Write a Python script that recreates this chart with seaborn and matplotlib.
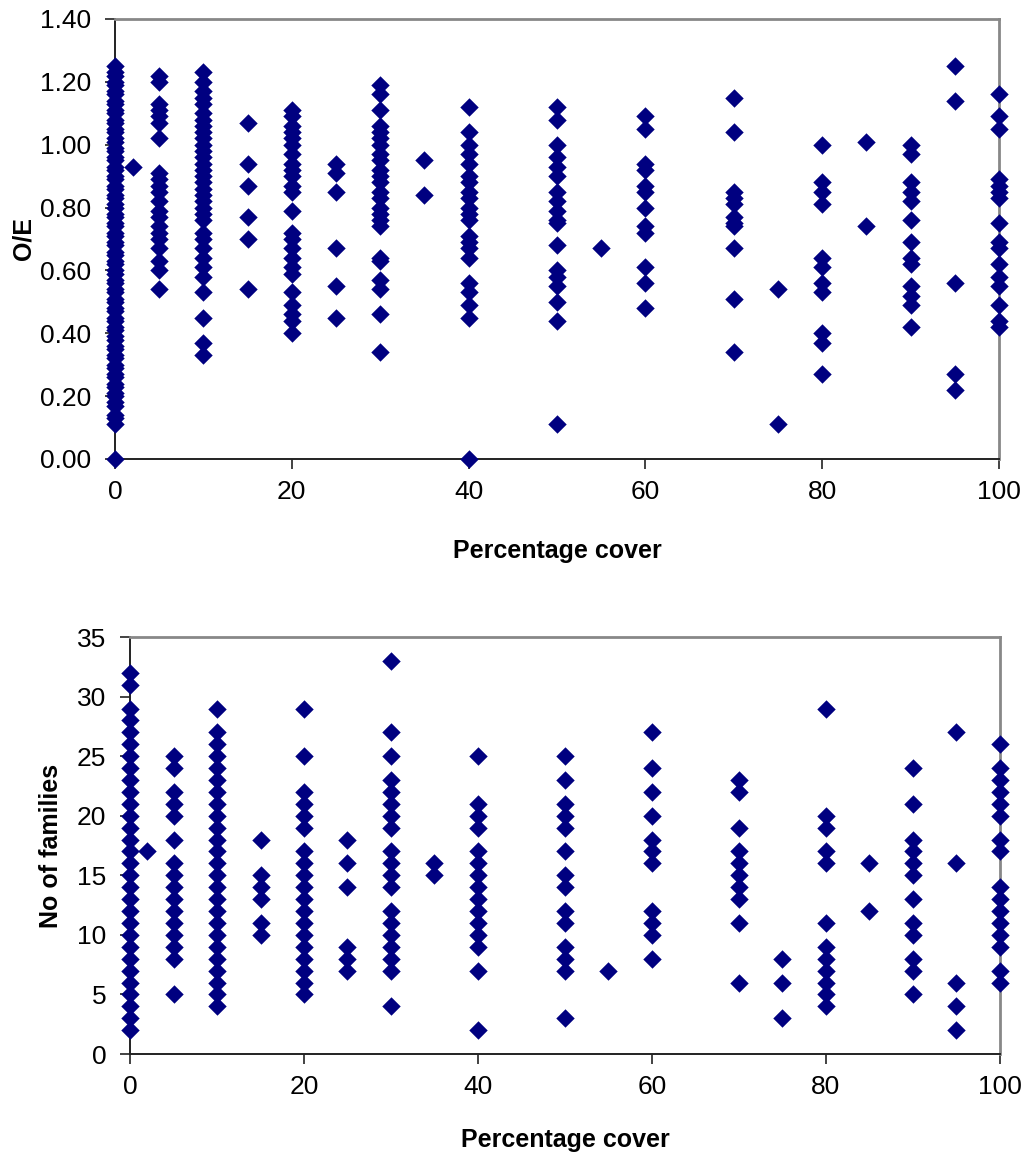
import matplotlib
matplotlib.use('Agg')
import matplotlib.pyplot as plt
import seaborn as sns
import numpy as np
import pandas as pd

# cover levels (% cover) used in both panels
cover_levels = [0, 2, 5, 10, 15, 20, 25, 30, 35, 40, 50, 55, 60, 70, 75, 80, 85, 90, 95, 100]

# O/E values, one list per cover level
oe_values = [
    [1.25, 1.23, 1.22, 1.20, 1.19, 1.17, 1.16, 1.14, 1.13, 1.11, 1.10, 1.08, 1.07, 1.05,
     1.04, 1.02, 1.01, 0.99, 0.98, 0.96, 0.95, 0.93, 0.92, 0.90, 0.89, 0.87, 0.86, 0.84,
     0.83, 0.81, 0.80, 0.78, 0.77, 0.75, 0.74, 0.72, 0.71, 0.69, 0.68, 0.66, 0.65, 0.63,
     0.62, 0.60, 0.59, 0.57, 0.56, 0.54, 0.53, 0.51, 0.50, 0.48, 0.47, 0.45, 0.44, 0.42,
     0.41, 0.39, 0.38, 0.36, 0.35, 0.33, 0.32, 0.30, 0.29, 0.27, 0.26, 0.24, 0.23, 0.21,
     0.20, 0.18, 0.17, 0.14, 0.13, 0.11, 0.00],
    [0.93],
    [1.22, 1.20, 1.13, 1.11, 1.09, 1.07, 1.02, 0.91, 0.89, 0.87, 0.85, 0.82, 0.79, 0.77,
     0.74, 0.72, 0.70, 0.67, 0.63, 0.60, 0.54],
    [1.23, 1.20, 1.17, 1.15, 1.13, 1.10, 1.08, 1.06, 1.04, 1.02, 1.00, 0.98, 0.96, 0.94,
     0.92, 0.90, 0.88, 0.86, 0.84, 0.82, 0.80, 0.78, 0.76, 0.72, 0.70, 0.67, 0.64, 0.61,
     0.58, 0.53, 0.45, 0.37, 0.33],
    [1.07, 0.94, 0.87, 0.77, 0.70, 0.54],
    [1.11, 1.09, 1.06, 1.04, 1.02, 1.00, 0.97, 0.94, 0.92, 0.90, 0.87, 0.85, 0.79, 0.72,
     0.70, 0.67, 0.64, 0.61, 0.59, 0.53, 0.49, 0.46, 0.44, 0.40],
    [0.94, 0.91, 0.85, 0.67, 0.55, 0.45],
    [1.19, 1.16, 1.11, 1.06, 1.04, 1.02, 1.00, 0.97, 0.95, 0.92, 0.90, 0.88, 0.85, 0.83,
     0.80, 0.78, 0.76, 0.74, 0.64, 0.63, 0.57, 0.54, 0.46, 0.34],
    [0.95, 0.84],
    [1.12, 1.04, 1.00, 0.97, 0.94, 0.90, 0.88, 0.85, 0.83, 0.80, 0.78, 0.76, 0.71, 0.69,
     0.67, 0.64, 0.56, 0.53, 0.49, 0.45, 0.00],
    [1.12, 1.08, 1.00, 0.96, 0.93, 0.90, 0.85, 0.82, 0.79, 0.76, 0.75, 0.68, 0.60, 0.58,
     0.55, 0.50, 0.44, 0.11],
    [0.67],
    [1.09, 1.05, 0.94, 0.92, 0.87, 0.85, 0.80, 0.74, 0.72, 0.61, 0.56, 0.48],
    [1.15, 1.04, 0.85, 0.83, 0.81, 0.77, 0.75, 0.74, 0.67, 0.51, 0.34],
    [0.54, 0.11],
    [1.00, 0.88, 0.85, 0.81, 0.64, 0.61, 0.56, 0.53, 0.40, 0.37, 0.27],
    [1.01, 0.74],
    [1.00, 0.97, 0.88, 0.85, 0.82, 0.76, 0.69, 0.64, 0.62, 0.55, 0.52, 0.49, 0.42],
    [1.25, 1.14, 0.56, 0.27, 0.22],
    [1.16, 1.09, 1.05, 0.89, 0.87, 0.85, 0.83, 0.75, 0.69, 0.67, 0.62, 0.58, 0.55, 0.49,
     0.44, 0.42],
]

# number of families, one list per cover level
families_values = [
    [32, 31, 29, 28, 27, 26, 25, 24, 23, 22, 21, 20, 19, 18, 17, 16, 15, 14, 13, 12, 11,
     10, 9, 8, 7, 6, 5, 4, 3, 2],
    [17],
    [25, 24, 22, 21, 20, 18, 16, 15, 14, 13, 12, 11, 10, 9, 8, 5],
    [29, 27, 26, 25, 24, 23, 22, 21, 20, 19, 18, 17, 16, 15, 14, 13, 12, 11, 10, 9, 8,
     7, 6, 5, 4],
    [18, 15, 14, 13, 11, 10],
    [29, 25, 22, 21, 20, 19, 17, 16, 15, 14, 13, 12, 11, 10, 9, 8, 7, 6, 5],
    [18, 16, 14, 9, 8, 7],
    [33, 27, 25, 23, 22, 21, 20, 19, 17, 16, 15, 14, 12, 11, 10, 9, 8, 7, 4],
    [16, 15],
    [25, 21, 20, 19, 17, 16, 15, 14, 13, 12, 11, 10, 9, 7, 2],
    [25, 23, 21, 20, 19, 17, 15, 14, 12, 11, 9, 8, 7, 3],
    [7],
    [27, 24, 22, 20, 18, 17, 16, 12, 11, 10, 8],
    [23, 22, 19, 17, 16, 15, 14, 13, 11, 6],
    [8, 6, 3],
    [29, 20, 19, 17, 16, 11, 9, 8, 7, 6, 5, 4],
    [16, 12],
    [24, 21, 18, 17, 16, 15, 13, 11, 10, 8, 7, 5],
    [27, 16, 6, 4, 2],
    [26, 24, 23, 22, 21, 20, 18, 17, 14, 13, 12, 11, 10, 9, 7, 6],
]


def long_frame(levels, groups, name):
    rows = [(c, v) for c, vals in zip(levels, groups) for v in vals]
    return pd.DataFrame(rows, columns=['cover', name])


oe_df = long_frame(cover_levels, oe_values, 'oe')
fam_df = long_frame(cover_levels, families_values, 'families')

sns.set_style('white')
plt.rcParams['font.family'] = ['Liberation Sans', 'DejaVu Sans']
plt.rcParams['text.color'] = 'black'
plt.rcParams['axes.labelcolor'] = 'black'
plt.rcParams['xtick.color'] = 'black'
plt.rcParams['ytick.color'] = 'black'

fig = plt.figure(figsize=(10.31, 11.57), dpi=100)
ax1 = fig.add_axes([0.1115, 0.6033, 0.8575, 0.3803])
ax2 = fig.add_axes([0.1261, 0.0890, 0.8438, 0.3604])

navy = '#000080'


def style_axis(ax, xlabelpad):
    for side in ['left', 'bottom']:
        ax.spines[side].set_color('#222222')
        ax.spines[side].set_linewidth(1.4)
    for side in ['top', 'right']:
        ax.spines[side].set_color('#888888')
        ax.spines[side].set_linewidth(2.0)
    ax.tick_params(axis='both', direction='out', length=7, width=1.2,
                   color='#222222', labelsize=19, labelcolor='black',
                   bottom=True, left=True, pad=8)
    ax.tick_params(axis='y', pad=10)
    ax.set_xlim(0, 100)
    ax.set_xticks([0, 20, 40, 60, 80, 100])
    ax.set_xlabel('Percentage cover', fontsize=18, fontweight='bold', labelpad=xlabelpad)


# Top panel: O/E
sns.scatterplot(data=oe_df, x='cover', y='oe', marker='D', s=88, color=navy,
                linewidth=0, ax=ax1, clip_on=False, zorder=5)
ax1.set_ylim(0, 1.40)
ax1.set_yticks(np.arange(0, 1.41, 0.2))
ax1.set_yticklabels([f'{t:.2f}' for t in np.arange(0, 1.41, 0.2)])
ax1.set_ylabel('O/E', fontsize=18, fontweight='bold', labelpad=3)
style_axis(ax1, 25)

# Bottom panel: number of families
sns.scatterplot(data=fam_df, x='cover', y='families', marker='D', s=88, color=navy,
                linewidth=0, ax=ax2, clip_on=False, zorder=5)
ax2.set_ylim(0, 35)
ax2.set_yticks(range(0, 36, 5))
ax2.set_ylabel('No of families', fontsize=18, fontweight='bold', labelpad=10)
style_axis(ax2, 21)

plt.savefig('out.png', dpi=100)
